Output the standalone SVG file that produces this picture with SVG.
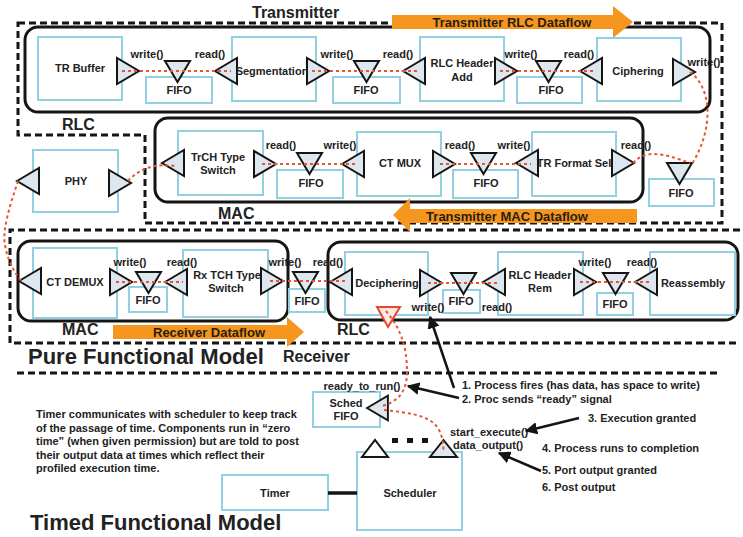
<svg xmlns="http://www.w3.org/2000/svg" xmlns:xlink="http://www.w3.org/1999/xlink" width="743" height="537" viewBox="0 0 743 537">
  <style>
    .dash { fill: none; stroke: #151515; stroke-width: 3; stroke-dasharray: 7 4; }
    .grp { fill: none; stroke: #151515; stroke-width: 3; }
    .box { fill: #ffffff; stroke: #93cfe3; stroke-width: 2; }
    .port { fill: #dde7ef; stroke: #151515; stroke-width: 2; stroke-linejoin: miter; }
    .rport { fill: #fbe9e4; stroke: #e8452e; stroke-width: 2; }
    .flow { fill: none; stroke: #e8542e; stroke-width: 2; stroke-dasharray: 3 3; }
    .arrow { fill: none; stroke: #151515; stroke-width: 2.5; }
    .orange { fill: #f5961e; }
    .t { font-family: "Liberation Sans", Arial, sans-serif; font-weight: bold; fill: #222; }
    .s { font-size: 11px; text-anchor: middle; }
    .l { font-size: 11px; text-anchor: start; }
    .h { font-size: 16px; text-anchor: start; }
    .big { font-size: 22px; text-anchor: start; }
    .of { font-size: 13px; text-anchor: middle; fill: #2b1d0e; }
  </style>
  <defs>
    <!-- output port: points right, anchor at base centre -->
    <polygon id="portR" class="port" points="0,-13 0,13 22,0"/>
    <!-- input port: points left, anchor at tip -->
    <polygon id="portL" class="port" points="0,0 22,-13 22,13"/>
    <!-- fifo port: points down, anchor at top-left -->
    <polygon id="fifoT" class="port" points="0,0 25,0 12.5,21"/>
    <marker id="ah" viewBox="0 0 10 10" refX="9" refY="5" markerWidth="5" markerHeight="5" orient="auto-start-reverse">
      <path d="M0,0 L10,5 L0,10 z" fill="#151515"/>
    </marker>
  </defs>

  <rect width="743" height="537" fill="#ffffff"/>

  <!-- model and direction frames -->
  <g id="frames">
    <path class="dash" d="M18,23 H722 V223 H145 V135 H18 Z"/>
    <path class="dash" d="M740,230 H10 V343 H740"/>
    <path class="dash" d="M17,373 H717"/>
    <rect class="grp" x="25" y="27" width="685" height="85" rx="13"/>
    <rect class="grp" x="155" y="118" width="488" height="84" rx="13"/>
    <rect class="grp" x="18" y="241" width="270" height="80" rx="13"/>
    <rect class="grp" x="328" y="242" width="410" height="78" rx="13"/>
    <text class="t h" x="252" y="18">Transmitter</text>
    <text class="t h" x="62" y="130">RLC</text>
    <text class="t h" x="218" y="219" font-size="17">MAC</text>
    <text class="t h" x="62" y="335" font-size="17">MAC</text>
    <text class="t h" x="337" y="335">RLC</text>
    <text class="t h" x="283" y="362">Receiver</text>
    <text class="t big" x="28" y="364">Pure Functional Model</text>
    <text class="t big" x="30" y="530">Timed Functional Model</text>
  </g>

  <!-- dataflow banners -->
  <g id="banner-tx-rlc">
    <polygon class="orange" points="392,15 613,15 613,6 633,22 613,38 613,29 392,29"/>
    <text class="t of" x="512" y="27">Transmitter RLC Dataflow</text>
  </g>
  <g id="banner-tx-mac">
    <polygon class="orange" points="637,209 410,209 410,198 393,215 410,232 410,223 637,223"/>
    <text class="t of" x="507" y="221" font-size="14">Transmitter MAC Dataflow</text>
  </g>
  <g id="banner-rx">
    <polygon class="orange" points="113,325 287,325 287,317 304,332 287,347 287,339 113,339"/>
    <text class="t of" x="209" y="337">Receiver Dataflow</text>
  </g>

  <!-- transmitter RLC -->
  <g id="tr-buffer">
    <rect class="box" x="38" y="37" width="84" height="63"/>
    <text class="t s" x="80" y="72">TR Buffer</text>
    <use xlink:href="#portR" x="117" y="71"/>
  </g>
  <g id="fifo-tx1">
    <rect class="box" x="146" y="77" width="66" height="26"/>
    <text class="t s" x="179" y="94">FIFO</text>
    <use xlink:href="#fifoT" x="165" y="61"/>
  </g>
  <g id="segmentation">
    <rect class="box" x="232" y="37" width="84" height="64"/>
    <use xlink:href="#portL" x="215" y="71"/>
    <use xlink:href="#portR" x="307" y="71"/>
    <text class="t s" x="272" y="75">Segmentation</text>
  </g>
  <g id="fifo-tx2">
    <rect class="box" x="333" y="77" width="67" height="26"/>
    <text class="t s" x="366" y="94">FIFO</text>
    <use xlink:href="#fifoT" x="354" y="61"/>
  </g>
  <g id="rlc-header-add">
    <rect class="box" x="420" y="37" width="84" height="64"/>
    <use xlink:href="#portL" x="403" y="71"/>
    <use xlink:href="#portR" x="495" y="71"/>
    <text class="t s" x="462" y="67">RLC Header</text>
    <text class="t s" x="462" y="81">Add</text>
  </g>
  <g id="fifo-tx3">
    <rect class="box" x="517" y="77" width="65" height="26"/>
    <text class="t s" x="551" y="94">FIFO</text>
    <use xlink:href="#fifoT" x="536" y="61"/>
  </g>
  <g id="ciphering">
    <rect class="box" x="597" y="38" width="84" height="63"/>
    <use xlink:href="#portL" x="580" y="71"/>
    <use xlink:href="#portR" x="673" y="72"/>
    <text class="t s" x="638" y="75">Ciphering</text>
  </g>
  <g id="fifo-tx4">
    <rect class="box" x="649" y="179" width="65" height="27"/>
    <text class="t s" x="681" y="197">FIFO</text>
    <use xlink:href="#fifoT" x="667" y="163"/>
  </g>

  <!-- transmitter MAC -->
  <g id="trch-type-switch">
    <rect class="box" x="178" y="131" width="85" height="64"/>
    <use xlink:href="#portL" x="162" y="163"/>
    <use xlink:href="#portR" x="254" y="164"/>
    <text class="t s" x="218" y="161">TrCH Type</text>
    <text class="t s" x="218" y="174">Switch</text>
  </g>
  <g id="fifo-tx5">
    <rect class="box" x="277" y="170" width="66" height="28"/>
    <text class="t s" x="311" y="187">FIFO</text>
    <use xlink:href="#fifoT" x="297" y="153"/>
  </g>
  <g id="ct-mux">
    <rect class="box" x="357" y="132" width="84" height="64"/>
    <use xlink:href="#portL" x="342" y="164"/>
    <use xlink:href="#portR" x="433" y="164"/>
    <text class="t s" x="400" y="167">CT MUX</text>
  </g>
  <g id="fifo-tx6">
    <rect class="box" x="453" y="170" width="65" height="28"/>
    <text class="t s" x="486" y="187">FIFO</text>
    <use xlink:href="#fifoT" x="471" y="153"/>
  </g>
  <g id="tr-format-sel">
    <rect class="box" x="532" y="132" width="84" height="64"/>
    <use xlink:href="#portL" x="516" y="163"/>
    <use xlink:href="#portR" x="612" y="163"/>
    <text class="t s" x="574" y="167">TR Format Sel</text>
  </g>

  <!-- physical layer -->
  <g id="phy">
    <rect class="box" x="33" y="150" width="85" height="62"/>
    <use xlink:href="#portL" x="17" y="181"/>
    <use xlink:href="#portR" x="109" y="183"/>
    <text class="t s" x="76" y="185">PHY</text>
  </g>

  <!-- receiver MAC -->
  <g id="ct-demux">
    <rect class="box" x="33" y="248" width="84" height="70"/>
    <use xlink:href="#portL" x="19" y="281"/>
    <use xlink:href="#portR" x="110" y="282"/>
    <text class="t s" x="75" y="286">CT DEMUX</text>
  </g>
  <g id="fifo-rx1">
    <rect class="box" x="129" y="287" width="38" height="25"/>
    <text class="t s" x="148" y="304">FIFO</text>
    <use xlink:href="#fifoT" x="136" y="272"/>
  </g>
  <g id="rx-tch-type-switch">
    <rect class="box" x="183" y="250" width="85" height="67"/>
    <use xlink:href="#portL" x="165" y="282"/>
    <use xlink:href="#portR" x="261" y="281"/>
    <text class="t s" x="227" y="279">Rx TCH Type</text>
    <text class="t s" x="226" y="292">Switch</text>
  </g>
  <g id="fifo-rx2">
    <rect class="box" x="289" y="289" width="36" height="23"/>
    <text class="t s" x="307" y="305">FIFO</text>
    <use xlink:href="#fifoT" x="293" y="272"/>
  </g>

  <!-- receiver RLC -->
  <g id="deciphering">
    <rect class="box" x="345" y="252" width="83" height="63"/>
    <use xlink:href="#portL" x="330" y="282"/>
    <use xlink:href="#portR" x="420" y="283"/>
    <text class="t s" x="387" y="287">Deciphering</text>
    <polygon class="rport" points="377,307 400,307 388,327"/>
  </g>
  <g id="fifo-rx3">
    <rect class="box" x="443" y="290" width="37" height="23"/>
    <use xlink:href="#fifoT" x="451" y="273"/>
    <text class="t s" x="461" y="305">FIFO</text>
  </g>
  <g id="rlc-header-rem">
    <rect class="box" x="498" y="252" width="85" height="63"/>
    <use xlink:href="#portL" x="483" y="282"/>
    <use xlink:href="#portR" x="574" y="282"/>
    <text class="t s" x="540" y="279">RLC Header</text>
    <text class="t s" x="540" y="292">Rem</text>
  </g>
  <g id="fifo-rx4">
    <rect class="box" x="597" y="293" width="36" height="22"/>
    <text class="t s" x="615" y="308">FIFO</text>
    <use xlink:href="#fifoT" x="603" y="273"/>
  </g>
  <g id="reassembly">
    <rect class="box" x="650" y="252" width="85" height="63"/>
    <use xlink:href="#portL" x="635" y="282"/>
    <text class="t s" x="693" y="287">Reassembly</text>
  </g>

  <!-- timed model -->
  <g id="sched-fifo">
    <rect class="box" x="313" y="392" width="67" height="35"/>
    <text class="t s" x="346" y="407">Sched</text>
    <text class="t s" x="346" y="420">FIFO</text>
    <use xlink:href="#portL" x="367" y="408" transform="translate(367 408) scale(0.95) translate(-367 -408)"/>
  </g>
  <g id="scheduler">
    <rect class="box" x="357" y="452" width="105" height="78"/>
    <text class="t s" x="410" y="497">Scheduler</text>
    <polygon class="port" fill="#ffffff" style="fill:#ffffff" points="362,457 388,457 375,440"/>
    <polygon class="port" points="430,457 457,457 443.5,440"/>
    <rect x="392" y="438" width="6" height="5" fill="#151515"/>
    <rect x="407" y="438" width="6" height="5" fill="#151515"/>
    <rect x="422" y="438" width="6" height="5" fill="#151515"/>
  </g>
  <g id="timer">
    <rect class="box" x="222" y="475" width="106" height="35"/>
    <text class="t s" x="275" y="497">Timer</text>
  </g>

  <!-- method labels -->
  <g id="method-labels">
    <text class="t s" x="147" y="58">write()</text>
    <text class="t s" x="210" y="58">read()</text>
    <text class="t s" x="337" y="58">write()</text>
    <text class="t s" x="398" y="58">read()</text>
    <text class="t s" x="521" y="58">write()</text>
    <text class="t s" x="579" y="58">read()</text>
    <text class="t s" x="704" y="66">write()</text>
    <text class="t s" x="281" y="149">read()</text>
    <text class="t s" x="340" y="149">write()</text>
    <text class="t s" x="460" y="149">read()</text>
    <text class="t s" x="514" y="149">write()</text>
    <text class="t s" x="636" y="149">read()</text>
    <text class="t s" x="130" y="266">write()</text>
    <text class="t s" x="182" y="266">read()</text>
    <text class="t s" x="285" y="266">write()</text>
    <text class="t s" x="328" y="266">read()</text>
    <text class="t s" x="428" y="311">write()</text>
    <text class="t s" x="497" y="311">read()</text>
    <text class="t s" x="595" y="266">write()</text>
    <text class="t s" x="642" y="266">read()</text>
    <text class="t s" x="362" y="390">ready_to_run()</text>
    <text class="t l" x="450" y="436">start_execute()</text>
    <text class="t l" x="453" y="449">data_output()</text>
  </g>

  <!-- numbered steps and note -->
  <g id="notes">
    <text class="t l" x="462" y="389">1. Process fires (has data, has space to write)</text>
    <text class="t l" x="462" y="403">2. Proc sends “ready” signal</text>
    <text class="t l" x="588" y="422">3. Execution granted</text>
    <text class="t l" x="542" y="452">4. Process runs to completion</text>
    <text class="t l" x="542" y="474">5. Port output granted</text>
    <text class="t l" x="542" y="491">6. Post output</text>
    <text class="t l" x="36" y="418">Timer communicates with scheduler to keep track</text>
    <text class="t l" x="36" y="432">of the passage of time. Components run in “zero</text>
    <text class="t l" x="36" y="445">time” (when given permission) but are told to post</text>
    <text class="t l" x="36" y="459">their output data at times which reflect their</text>
    <text class="t l" x="36" y="472">profiled execution time.</text>
  </g>

  <!-- connectors -->
  <g id="connectors">
    <path class="flow" d="M122,71 H231"/>
    <path class="flow" d="M312,71 H419"/>
    <path class="flow" d="M500,71 H596"/>
    <path class="flow" d="M690,72 C712,88 714,128 692,164"/>
    <path class="flow" d="M633,163 C645,150 660,152 690,163"/>
    <path class="flow" d="M262,164 H356"/>
    <path class="flow" d="M440,164 H531"/>
    <path class="flow" d="M128,181 C140,168 155,163 176,166"/>
    <path class="flow" d="M18,181 C10,205 2,230 5,245 C8,262 14,272 22,282"/>
    <path class="flow" d="M116,282 H183"/>
    <path class="flow" d="M270,281 H345"/>
    <path class="flow" d="M428,283 H500"/>
    <path class="flow" d="M580,282 H650"/>
    <path class="flow" d="M386,311 C400,328 407,345 407,372 C407,395 395,402 382,406"/>
    <path class="flow" d="M384,410 C412,413 432,416 439,430 C443,438 444,446 443,452"/>
    <line class="arrow" x1="454" y1="388" x2="430" y2="317" marker-end="url(#ah)"/>
    <line class="arrow" x1="459" y1="398" x2="408" y2="386" marker-end="url(#ah)"/>
    <line class="arrow" x1="579" y1="418" x2="526" y2="431" marker-end="url(#ah)"/>
    <line class="arrow" x1="541" y1="471" x2="499" y2="453" marker-end="url(#ah)"/>
    <line x1="328" y1="493" x2="357" y2="493" stroke="#151515" stroke-width="3.5"/>
  </g>
</svg>
